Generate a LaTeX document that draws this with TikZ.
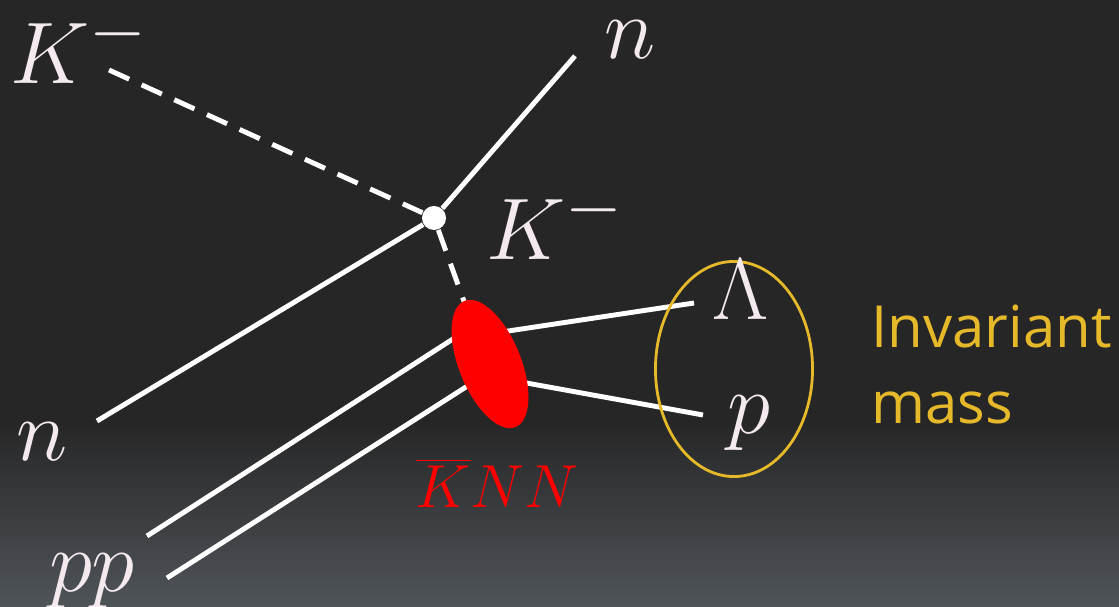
\documentclass[tikz,border=0pt]{standalone}
\usepackage{fontspec}
\newfontfamily\notefont{Open Sans}
\usetikzlibrary{
    shapes.geometric,    % For the ellipses
    positioning,         % For relative placement
}
\definecolor{bgtop}{HTML}{262626}
\definecolor{bgbottom}{HTML}{4F5459}
\definecolor{labelwhite}{HTML}{F3E9EE}
\definecolor{massyellow}{HTML}{E6B92B}

\begin{document}
\begin{tikzpicture}[
    x=0.01cm, y=-0.01cm, % one unit = one pixel, y pointing down
    particle/.style={draw=white, line width=1.4pt}, % Style for baryon lines
    kaon/.style={particle, dash pattern=on 6.3pt off 3.9pt}, % Style for kaon lines
    vertex/.style={fill=white, circle, inner sep=0pt, minimum size=0.24cm}, % Reaction point
    blob/.style={fill=red, ellipse, inner sep=0pt, minimum width=1.36cm, minimum height=0.62cm}, % KNN state
    labelstyle/.style={text=labelwhite, inner sep=0pt, font=\fontsize{24.88}{30}\selectfont}, % Particle labels
    massring/.style={draw=massyellow, line width=0.8pt, ellipse, inner sep=0pt,
        minimum width=1.57cm, minimum height=2.15cm}
]

    % Background
    \fill[bgtop] (0,0) rectangle (1119,607);
    \shade[top color=bgtop, bottom color=bgbottom] (0,420) rectangle (1119,607);
    \useasboundingbox (0,0) rectangle (1119,607);

    % Reaction point
    \node[vertex] (vtx) at (434,218) {};

    % Line end points
    \coordinate (Kin) at (109,70);
    \coordinate (nout) at (575,56);
    \coordinate (nin) at (97,421);
    \coordinate (Kex) at (470,318);
    \coordinate (ppA) at (147,536);
    \coordinate (ppAend) at (470,328);
    \coordinate (ppB) at (167,578);
    \coordinate (ppBend) at (480,378);
    \coordinate (Lstart) at (495,333);
    \coordinate (Lend) at (694,303);
    \coordinate (pstart) at (510,380);
    \coordinate (pend) at (703,415);

    % Incoming and outgoing lines
    \draw[kaon] (Kin) -- (vtx);
    \draw[particle] (vtx) -- (nout);
    \draw[particle] (nin) -- (vtx);
    \draw[kaon] (vtx) -- (Kex);
    \draw[particle] (ppA) -- (ppAend);
    \draw[particle] (ppB) -- (ppBend);
    \draw[particle] (Lstart) -- (Lend);
    \draw[particle] (pstart) -- (pend);

    % Bound state
    \node[blob, rotate=-68] (knn) at (490,364) {};
    \node[text=red, inner sep=0pt, font=\fontsize{17.28}{21}\selectfont, anchor=base] (knnlabel) at (497,507) {$\overline{K}NN$};

    % Invariant mass ring
    \node[massring] (ring) at (734,369) {};
    \node[text=massyellow, font=\notefont\fontsize{16.5}{21.6}\selectfont, anchor=base west, align=left,
        inner sep=0pt] (note) at (871,423) {Invariant\\mass};

    % Particle labels
    \node[labelstyle, anchor=base west] (Kinlabel) at (10,84) {$K^-$};
    \node[labelstyle, anchor=base] (noutlabel) at (630,59) {$n$};
    \node[labelstyle, anchor=base west] (Kexlabel) at (486,260) {$K^-$};
    \node[labelstyle, anchor=base] (ninlabel) at (42,460) {$n$};
    \node[labelstyle, anchor=base] (pplabel) at (92,591) {$pp$};
    \node[labelstyle, anchor=base] (Llabel) at (741,320) {$\Lambda$};
    \node[labelstyle, anchor=base] (plabel) at (749,433) {$p$};

\end{tikzpicture}
\end{document}
